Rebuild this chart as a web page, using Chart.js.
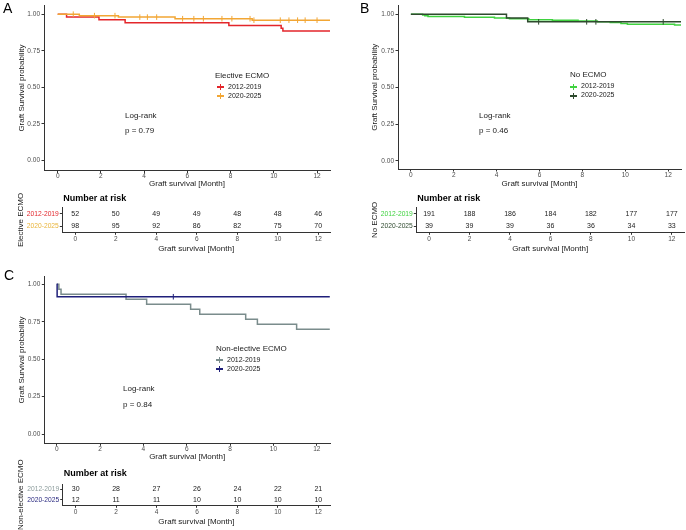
<!DOCTYPE html>
<html>
<head>
<meta charset="utf-8">
<script src="https://cdn.jsdelivr.net/npm/chart.js@4.4.1/dist/chart.umd.min.js"></script>
<style>
body { margin: 0; background: #fff; font-family: "Liberation Sans", Arial, sans-serif; }
#page { position: relative; width: 686px; height: 530px; overflow: hidden; }
.box { position: absolute; }
.txt { position: absolute; white-space: nowrap; color: #1a1a1a; line-height: 10px; font-size: 8px; }
.letter { position: absolute; font-size: 14px; line-height: 14px; color: #000; }
.sym { position: absolute; height: 1.5px; width: 7px; }
.sym i { position: absolute; left: 3px; top: -2px; width: 1px; height: 5.5px; background: inherit; }
</style>
</head>
<body>
<div id="page">
  <div class="box" style="left:0;top:0"><canvas id="kmA" width="343" height="192"></canvas></div>
  <div class="box" style="left:0;top:186px"><canvas id="riskA" width="343" height="70"></canvas></div>
  <div class="box" style="left:343px;top:0"><canvas id="kmB" width="343" height="192"></canvas></div>
  <div class="box" style="left:343px;top:186px"><canvas id="riskB" width="343" height="70"></canvas></div>
  <div class="box" style="left:0;top:262px"><canvas id="kmC" width="343" height="200"></canvas></div>
  <div class="box" style="left:0;top:450px"><canvas id="riskC" width="343" height="80"></canvas></div>

  <div class="letter" style="left:3px;top:1px">A</div>
  <div class="letter" style="left:360px;top:1px">B</div>
  <div class="letter" style="left:4px;top:268px">C</div>

  <div class="txt" style="left:215px;top:71px">Elective ECMO</div>
  <div class="sym" style="left:217px;top:86px;background:#e3262b"><i></i></div>
  <div class="txt" style="left:228px;top:82px;font-size:7px">2012-2019</div>
  <div class="sym" style="left:217px;top:95px;background:#f2a634"><i></i></div>
  <div class="txt" style="left:228px;top:91px;font-size:7px">2020-2025</div>
  <div class="txt" style="left:125px;top:111px">Log-rank</div>
  <div class="txt" style="left:125px;top:126px">p = 0.79</div>

  <div class="txt" style="left:570px;top:70px">No ECMO</div>
  <div class="sym" style="left:570px;top:86px;background:#3fd23f"><i></i></div>
  <div class="txt" style="left:581px;top:81px;font-size:7px">2012-2019</div>
  <div class="sym" style="left:570px;top:95px;background:#2e4a2e"><i></i></div>
  <div class="txt" style="left:581px;top:90px;font-size:7px">2020-2025</div>
  <div class="txt" style="left:479px;top:111px">Log-rank</div>
  <div class="txt" style="left:479px;top:126px">p = 0.46</div>

  <div class="txt" style="left:216px;top:344px">Non-elective ECMO</div>
  <div class="sym" style="left:216px;top:359px;background:#7a8c8c"><i></i></div>
  <div class="txt" style="left:227px;top:355px;font-size:7px">2012-2019</div>
  <div class="sym" style="left:216px;top:368px;background:#1f1f7a"><i></i></div>
  <div class="txt" style="left:227px;top:364px;font-size:7px">2020-2025</div>
  <div class="txt" style="left:123px;top:384px">Log-rank</div>
  <div class="txt" style="left:123px;top:400px">p = 0.84</div>
</div>

<script>
var months = [0, 2, 4, 6, 8, 10, 12];
var survTicks = [0, 0.25, 0.5, 0.75, 1];
var groups = ["2012-2019", "2020-2025"];

// A - elective ECMO
var elecEarlyTime = [0, 0.41, 1.91, 3.12, 7.92, 10.34, 10.42, 12.6];
var elecEarlySurv = [1, 0.981, 0.962, 0.942, 0.923, 0.904, 0.885, 0.885];
var elecEarlyCens = [];
var elecLateTime = [0, 1.0, 2.81, 5.43, 9.0, 12.6];
var elecLateSurv = [1, 0.99, 0.98, 0.969, 0.959, 0.959];
var elecLateCens = [0.72, 1.7, 2.65, 3.8, 4.15, 4.58, 5.78, 6.3, 6.74, 7.6, 8.06, 8.9, 9.08, 10.3, 10.7, 11.1, 11.45, 12.0];
var elecRiskEarly = [52, 50, 49, 49, 48, 48, 46];
var elecRiskLate = [98, 95, 92, 86, 82, 75, 70];

// B - no ECMO
var noEarlyTime = [0, 0.55, 0.65, 0.8, 2.5, 3.9, 4.6, 5.5, 6.6, 7.8, 8.7, 9.3, 9.8, 10.1, 12.3, 12.6];
var noEarlySurv = [1, 0.995, 0.99, 0.984, 0.979, 0.974, 0.969, 0.963, 0.958, 0.953, 0.948, 0.943, 0.937, 0.932, 0.927, 0.927];
var noEarlyCens = [];
var noLateTime = [0, 4.46, 5.45, 12.6];
var noLateSurv = [1, 0.974, 0.948, 0.948];
var noLateCens = [5.96, 8.2, 8.63, 11.77];
var noRiskEarly = [191, 188, 186, 184, 182, 177, 177];
var noRiskLate = [39, 39, 39, 36, 36, 34, 33];

// C - non-elective ECMO
var nonEarlyTime = [0, 0.1, 0.2, 3.2, 4.15, 6.18, 6.6, 8.72, 9.26, 11.07, 12.6];
var nonEarlySurv = [1, 0.967, 0.933, 0.9, 0.867, 0.833, 0.8, 0.767, 0.733, 0.7, 0.7];
var nonEarlyCens = [];
var nonLateTime = [0, 0.02, 12.6];
var nonLateSurv = [1, 0.917, 0.917];
var nonLateCens = [5.38];
var nonRiskEarly = [30, 28, 27, 26, 24, 22, 21];
var nonRiskLate = [12, 11, 11, 10, 10, 10, 10];

Chart.defaults.font.family = "'Liberation Sans', Arial, sans-serif";

function stepData(times, surv) {
    return times.map(function (t, i) { return { x: t, y: surv[i] }; });
}

function survAt(times, surv, t) {
    var s = surv[0];
    for (var i = 0; i < times.length; i++) {
        if (times[i] <= t) s = surv[i];
    }
    return s;
}

function censData(times, surv, cens) {
    return cens.map(function (t) { return { x: t, y: survAt(times, surv, t) }; });
}

function fixedTicks(vals) {
    return function (scale) {
        scale.ticks = vals.map(function (v) { return { value: v }; });
    };
}

function makeKm(id, b, curves) {
    var datasets = [];
    // later group first so it sits on top
    curves.slice().reverse().forEach(function (c) {
        datasets.push({
            type: 'line', data: stepData(c.t, c.s), borderColor: c.color, borderWidth: 1.5,
            stepped: true, pointRadius: 0, fill: false
        });
        datasets.push({
            type: 'scatter', data: censData(c.t, c.s, c.cens), borderColor: c.color, backgroundColor: c.color,
            borderWidth: 1, pointStyle: 'line', rotation: 90, pointRadius: 2.8, showLine: false
        });
    });

    new Chart(document.getElementById(id), {
        type: 'line',
        data: { datasets: datasets },
        options: {
            responsive: false,
            animation: false,
            events: [],
            layout: { padding: { top: b.padTop, right: b.padRight, bottom: 0, left: 0 } },
            plugins: { legend: { display: false }, tooltip: { enabled: false } },
            scales: {
                x: {
                    type: 'linear', min: b.xmin, max: b.xmax,
                    afterBuildTicks: fixedTicks(months),
                    afterFit: function (s) { s.height = b.xHeight; },
                    grid: { drawOnChartArea: false, tickLength: 2.5, color: '#333' },
                    border: { color: '#333', width: 1 },
                    ticks: { font: { size: 6.5, lineHeight: 1 }, color: '#4d4d4d', padding: b.xTickPad, maxRotation: 0, autoSkip: false },
                    title: { display: true, text: 'Graft survival [Month]', color: '#1a1a1a', font: { size: 8 }, padding: { top: 0, bottom: b.xTitlePad } }
                },
                y: {
                    type: 'linear', min: b.ymin, max: b.ymax,
                    afterBuildTicks: fixedTicks(survTicks),
                    afterFit: function (s) { s.width = b.yWidth; },
                    grid: { drawOnChartArea: false, tickLength: 2.5, color: '#333' },
                    border: { color: '#333', width: 1 },
                    ticks: { font: { size: 6.5 }, color: '#4d4d4d', padding: 1.5, autoSkip: false, callback: function (v) { return v.toFixed(2); } },
                    title: { display: true, text: 'Graft Survival probability', color: '#1a1a1a', font: { size: 8 }, padding: { top: b.yTitlePad, bottom: 0 } }
                }
            }
        }
    });
}

var riskText = {
    id: 'riskText',
    afterDatasetsDraw: function (chart) {
        var ctx = chart.ctx;
        ctx.save();
        ctx.font = '7px "Liberation Sans", Arial, sans-serif';
        ctx.fillStyle = '#1a1a1a';
        ctx.textAlign = 'center';
        ctx.textBaseline = 'middle';
        chart.data.datasets.forEach(function (ds, di) {
            chart.getDatasetMeta(di).data.forEach(function (pt, i) {
                ctx.fillText(ds.data[i].n, pt.x, pt.y);
            });
        });
        ctx.font = 'bold 9px "Liberation Sans", Arial, sans-serif';
        ctx.fillStyle = '#000';
        ctx.textAlign = 'left';
        ctx.fillText('Number at risk', chart.chartArea.left + 1, chart.chartArea.top - chart.options.plugins.riskText.headGap);
        ctx.restore();
    }
};

function makeRisk(id, b, title, rowColors, rows) {
    var datasets = rows.map(function (counts, r) {
        return {
            data: counts.map(function (n, i) { return { x: months[i], y: groups[r], n: n }; }),
            pointRadius: 0, showLine: false
        };
    });

    new Chart(document.getElementById(id), {
        type: 'scatter',
        data: { datasets: datasets },
        plugins: [riskText],
        options: {
            responsive: false,
            animation: false,
            events: [],
            layout: { padding: { top: b.padTop, right: b.padRight, bottom: 0, left: 0 } },
            plugins: { legend: { display: false }, tooltip: { enabled: false }, riskText: { headGap: b.headGap } },
            scales: {
                x: {
                    type: 'linear', min: b.xmin, max: b.xmax,
                    afterBuildTicks: fixedTicks(months),
                    afterFit: function (s) { s.height = b.xHeight; },
                    grid: { drawOnChartArea: false, tickLength: 2.5, color: '#333' },
                    border: { color: '#333', width: 1 },
                    ticks: { font: { size: 6.5, lineHeight: 1 }, color: '#4d4d4d', padding: b.xTickPad, maxRotation: 0, autoSkip: false },
                    title: { display: true, text: 'Graft survival [Month]', color: '#1a1a1a', font: { size: 8 }, padding: { top: 0, bottom: b.xTitlePad } }
                },
                y: {
                    type: 'category', labels: groups, offset: true,
                    afterFit: function (s) { s.width = b.yWidth; },
                    grid: { drawOnChartArea: false, tickLength: 2.5, color: '#333', offset: false },
                    border: { color: '#333', width: 1 },
                    ticks: { font: { size: 6.7, lineHeight: 1 }, padding: 1, autoSkip: false, color: function (c) { return rowColors[c.index]; } },
                    title: { display: true, text: title, color: '#1a1a1a', font: { size: 8 }, padding: { top: b.yTitlePad, bottom: 0 } }
                }
            }
        }
    });
}

makeKm('kmA', { padTop: 1, padRight: 13, xHeight: 21.3, yWidth: 44, xmin: -0.634, xmax: 12.6, ymin: -0.069, ymax: 1.06, xTickPad: 0, xTitlePad: 3.2, yTitlePad: 16.7 }, [
    { t: elecEarlyTime, s: elecEarlySurv, cens: elecEarlyCens, color: '#e3262b' },
    { t: elecLateTime, s: elecLateSurv, cens: elecLateCens, color: '#f2a634' }
]);
makeRisk('riskA', { padTop: 21.5, padRight: 13, xHeight: 23.7, yWidth: 62.3, xmin: -0.64, xmax: 12.58, xTickPad: 1, xTitlePad: 2.7, yTitlePad: 16.2, headGap: 8.5 },
    'Elective ECMO', ['#e3262b', '#e9b43a'], [elecRiskEarly, elecRiskLate]);

makeKm('kmB', { padTop: 1, padRight: 1, xHeight: 23, yWidth: 55, xmin: -0.6, xmax: 12.6, ymin: -0.055, ymax: 1.06, xTickPad: 0, xTitlePad: 3.2, yTitlePad: 26.9 }, [
    { t: noEarlyTime, s: noEarlySurv, cens: noEarlyCens, color: '#3fd23f' },
    { t: noLateTime, s: noLateSurv, cens: noLateCens, color: '#2e4a2e' }
]);
makeRisk('riskB', { padTop: 21.5, padRight: 2, xHeight: 23.7, yWidth: 73.3, xmin: -0.63, xmax: 12.6, xTickPad: 1, xTitlePad: 2.7, yTitlePad: 27.2, headGap: 8.5 },
    'No ECMO', ['#3fd23f', '#2e4a2e'], [noRiskEarly, noRiskLate]);

makeKm('kmC', { padTop: 14.7, padRight: 13, xHeight: 18.7, yWidth: 44.3, xmin: -0.572, xmax: 12.61, ymin: -0.062, ymax: 1.051, xTickPad: 0, xTitlePad: 0.5, yTitlePad: 16.9 }, [
    { t: nonEarlyTime, s: nonEarlySurv, cens: nonEarlyCens, color: '#7a8c8c' },
    { t: nonLateTime, s: nonLateSurv, cens: nonLateCens, color: '#1f1f7a' }
]);
makeRisk('riskC', { padTop: 34, padRight: 13, xHeight: 24.7, yWidth: 62.7, xmin: -0.64, xmax: 12.58, xTickPad: 1.6, xTitlePad: 3.9, yTitlePad: 16.2, headGap: 10.7 },
    'Non-elective ECMO', ['#8a9a9a', '#2b2b80'], [nonRiskEarly, nonRiskLate]);
</script>
</body>
</html>
